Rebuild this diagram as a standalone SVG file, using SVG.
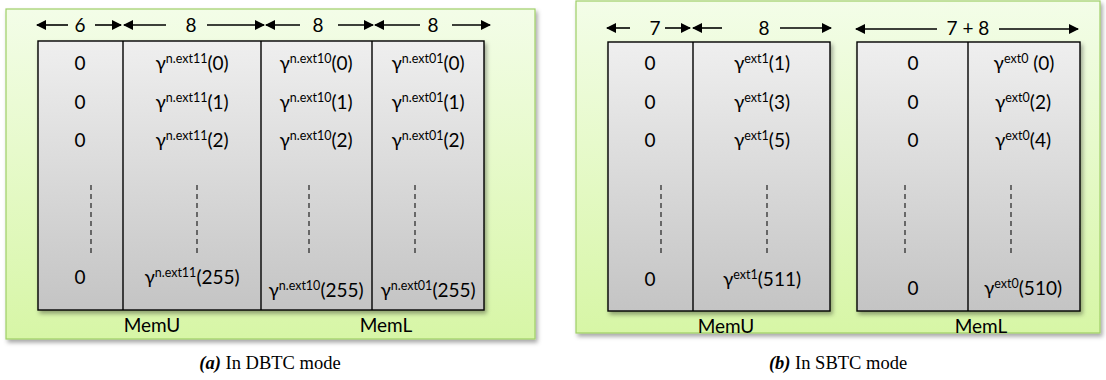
<svg xmlns="http://www.w3.org/2000/svg" width="1106" height="380" viewBox="0 0 1106 380">
<defs>
<linearGradient id="gGreen" x1="0" y1="0" x2="0" y2="1"><stop offset="0" stop-color="#f3fde8"/><stop offset="1" stop-color="#d7f6a6"/></linearGradient>
<linearGradient id="gGray" x1="0" y1="0" x2="0" y2="1"><stop offset="0" stop-color="#efefef"/><stop offset="1" stop-color="#c4c4c4"/></linearGradient>
<filter id="sh" x="-5%" y="-5%" width="110%" height="115%"><feDropShadow dx="2" dy="3" stdDeviation="2" flood-color="#000" flood-opacity="0.35"/></filter>
<marker id="ah" viewBox="0 0 10 10" refX="9" refY="5" markerWidth="11" markerHeight="10" markerUnits="userSpaceOnUse" orient="auto"><path d="M0,0 L10,5 L0,10 z" fill="#000"/></marker>
</defs>
<style>
.panel{fill:url(#gGreen);stroke:#9fcf67;stroke-width:1.2}
.tbl{fill:url(#gGray);stroke:#000;stroke-width:1.4}
.div{stroke:#000;stroke-width:1.4}
.dash{stroke:#111;stroke-width:1.1;stroke-dasharray:5,4}
.t{font-family:Lato,"Open Sans",sans-serif;font-size:19px;fill:#000;text-anchor:middle}
.sup{font-size:12.5px}
.arr{stroke:#000;stroke-width:1.6;fill:none;marker-end:url(#ah)}
.cap{font-family:"Liberation Serif",serif;font-size:18.5px;fill:#000;text-anchor:middle}
</style>

<g id="panelA">
<rect class="panel" x="6" y="9" width="529" height="330" filter="url(#sh)"/>
<rect class="tbl" x="38" y="41" width="446" height="269" filter="url(#sh)"/>
<line class="div" x1="123" y1="41" x2="123" y2="310"/>
<line class="div" x1="261" y1="41" x2="261" y2="310"/>
<line class="div" x1="372" y1="41" x2="372" y2="310"/>
<text class="t" x="80" y="70">0</text>
<text class="t" x="80" y="109">0</text>
<text class="t" x="80" y="147">0</text>
<text class="t" x="80" y="284">0</text>
<text class="t" x="192" y="70">γ<tspan class="sup" dy="-7">n.ext11</tspan><tspan dy="7">(0)</tspan></text>
<text class="t" x="192" y="109">γ<tspan class="sup" dy="-7">n.ext11</tspan><tspan dy="7">(1)</tspan></text>
<text class="t" x="192" y="147">γ<tspan class="sup" dy="-7">n.ext11</tspan><tspan dy="7">(2)</tspan></text>
<text class="t" x="192" y="284">γ<tspan class="sup" dy="-7">n.ext11</tspan><tspan dy="7">(255)</tspan></text>
<text class="t" x="316" y="70">γ<tspan class="sup" dy="-7">n.ext10</tspan><tspan dy="7">(0)</tspan></text>
<text class="t" x="316" y="109">γ<tspan class="sup" dy="-7">n.ext10</tspan><tspan dy="7">(1)</tspan></text>
<text class="t" x="316" y="147">γ<tspan class="sup" dy="-7">n.ext10</tspan><tspan dy="7">(2)</tspan></text>
<text class="t" x="316" y="297">γ<tspan class="sup" dy="-7">n.ext10</tspan><tspan dy="7">(255)</tspan></text>
<text class="t" x="428" y="70">γ<tspan class="sup" dy="-7">n.ext01</tspan><tspan dy="7">(0)</tspan></text>
<text class="t" x="428" y="109">γ<tspan class="sup" dy="-7">n.ext01</tspan><tspan dy="7">(1)</tspan></text>
<text class="t" x="428" y="147">γ<tspan class="sup" dy="-7">n.ext01</tspan><tspan dy="7">(2)</tspan></text>
<text class="t" x="428" y="297">γ<tspan class="sup" dy="-7">n.ext01</tspan><tspan dy="7">(255)</tspan></text>
<line class="dash" x1="91" y1="185" x2="91" y2="254"/>
<line class="dash" x1="197" y1="185" x2="197" y2="254"/>
<line class="dash" x1="309" y1="185" x2="309" y2="254"/>
<line class="dash" x1="415" y1="185" x2="415" y2="254"/>
<text class="t" x="152" y="332">MemU</text>
<text class="t" x="386" y="332">MemL</text>
<text class="t" x="80" y="32">6</text>
<text class="t" x="191" y="32">8</text>
<text class="t" x="318" y="32">8</text>
<text class="t" x="433" y="32">8</text>
</g>

<g id="panelB">
<rect class="panel" x="576" y="1" width="524" height="332" filter="url(#sh)"/>
<rect class="tbl" x="608" y="42" width="222" height="269" filter="url(#sh)"/>
<line class="div" x1="693" y1="42" x2="693" y2="311"/>
<rect class="tbl" x="857" y="42" width="223" height="269" filter="url(#sh)"/>
<line class="div" x1="968" y1="42" x2="968" y2="311"/>
<text class="t" x="650" y="70">0</text>
<text class="t" x="650" y="109">0</text>
<text class="t" x="650" y="147">0</text>
<text class="t" x="650" y="286">0</text>
<text class="t" x="762" y="70">γ<tspan class="sup" dy="-7">ext1</tspan><tspan dy="7">(1)</tspan></text>
<text class="t" x="762" y="109">γ<tspan class="sup" dy="-7">ext1</tspan><tspan dy="7">(3)</tspan></text>
<text class="t" x="762" y="147">γ<tspan class="sup" dy="-7">ext1</tspan><tspan dy="7">(5)</tspan></text>
<text class="t" x="762" y="286">γ<tspan class="sup" dy="-7">ext1</tspan><tspan dy="7">(511)</tspan></text>
<text class="t" x="913" y="70">0</text>
<text class="t" x="913" y="109">0</text>
<text class="t" x="913" y="147">0</text>
<text class="t" x="913" y="295">0</text>
<text class="t" x="1024" y="70">γ<tspan class="sup" dy="-7">ext0</tspan><tspan dy="7"> (0)</tspan></text>
<text class="t" x="1023" y="109">γ<tspan class="sup" dy="-7">ext0</tspan><tspan dy="7">(2)</tspan></text>
<text class="t" x="1023" y="147">γ<tspan class="sup" dy="-7">ext0</tspan><tspan dy="7">(4)</tspan></text>
<text class="t" x="1023" y="295">γ<tspan class="sup" dy="-7">ext0</tspan><tspan dy="7">(510)</tspan></text>
<line class="dash" x1="661" y1="185" x2="661" y2="254"/>
<line class="dash" x1="767" y1="185" x2="767" y2="254"/>
<line class="dash" x1="905" y1="185" x2="905" y2="254"/>
<line class="dash" x1="1011" y1="185" x2="1011" y2="254"/>
<text class="t" x="726" y="333">MemU</text>
<text class="t" x="981" y="333">MemL</text>
<text class="t" x="655" y="35">7</text>
<text class="t" x="764" y="35">8</text>
<text class="t" x="968" y="35">7 + 8</text>
</g>

<g id="connectors">
<line class="arr" x1="68" y1="25" x2="37" y2="25"/>
<line class="arr" x1="95" y1="25" x2="121" y2="25"/>
<line class="arr" x1="166" y1="25" x2="124" y2="25"/>
<line class="arr" x1="207" y1="25" x2="264" y2="25"/>
<line class="arr" x1="300" y1="25" x2="266" y2="25"/>
<line class="arr" x1="338" y1="25" x2="373" y2="25"/>
<line class="arr" x1="420" y1="25" x2="375" y2="25"/>
<line class="arr" x1="452" y1="25" x2="490" y2="25"/>
<line class="arr" x1="630" y1="28" x2="607" y2="28"/>
<line class="arr" x1="665" y1="28" x2="690" y2="28"/>
<line class="arr" x1="722" y1="28" x2="693" y2="28"/>
<line class="arr" x1="780" y1="28" x2="831" y2="28"/>
<line class="arr" x1="937" y1="29" x2="856" y2="29"/>
<line class="arr" x1="999" y1="29" x2="1078" y2="29"/>
</g>

<g id="captions">
<text class="cap" x="270" y="369"><tspan font-weight="bold" font-style="italic">(a)</tspan> In DBTC mode</text>
<text class="cap" x="838" y="369"><tspan font-weight="bold" font-style="italic">(b)</tspan> In SBTC mode</text>
</g>
</svg>
